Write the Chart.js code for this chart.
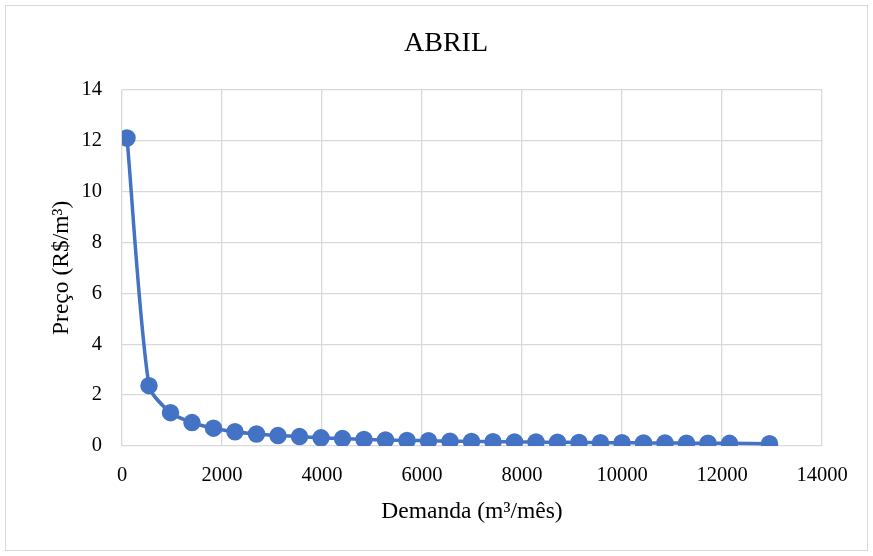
<!DOCTYPE html>
<html>
<head>
<meta charset="utf-8">
<script src="https://cdn.jsdelivr.net/npm/chart.js@4"></script>
<style>
html,body{margin:0;padding:0;background:#fff;}
#wrap{width:873px;height:556px;position:relative;}
</style>
</head>
<body>
<div id="wrap"><canvas id="c" width="873" height="556"></canvas></div>
<script>
const demanda = [100, 540, 970, 1400, 1830, 2260, 2690, 3120, 3550, 3980, 4410, 4840, 5270, 5700, 6130, 6560, 6990, 7420, 7850, 8280, 8710, 9140, 9570, 10000, 10430, 10860, 11290, 11720, 12150, 12950];
const preco = [12.1, 2.37, 1.31, 0.92, 0.70, 0.56, 0.47, 0.41, 0.37, 0.32, 0.29, 0.26, 0.24, 0.22, 0.21, 0.19, 0.18, 0.17, 0.16, 0.155, 0.145, 0.14, 0.13, 0.127, 0.12, 0.117, 0.112, 0.108, 0.104, 0.09];
const xTicks = [0, 2000, 4000, 6000, 8000, 10000, 12000, 14000];
const yTicks = [0, 2, 4, 6, 8, 10, 12, 14];

const pts = demanda.map((x, i) => ({x: x, y: preco[i]}));
const FONT = "'Liberation Serif', 'Times New Roman', serif";

const borderPlugin = {
  id: 'outerBorder',
  afterLayout(chart) {
    if (chart.titleBlock) {
      chart.titleBlock.left = 19;
      chart.titleBlock.right = 873;
    }
  },
  beforeDraw(chart) {
    const ctx = chart.ctx;
    ctx.save();
    ctx.fillStyle = '#ffffff';
    ctx.fillRect(0, 0, chart.width, chart.height);
    ctx.strokeStyle = '#d9d9d9';
    ctx.lineWidth = 1;
    ctx.strokeRect(5.5, 5.5, chart.width - 11, chart.height - 11);
    ctx.restore();
  }
};

new Chart(document.getElementById('c'), {
  type: 'scatter',
  data: {
    datasets: [{
      data: pts,
      showLine: true,
      borderColor: '#4472C4',
      backgroundColor: '#4472C4',
      borderWidth: 3.5,
      pointRadius: 7,
      pointHoverRadius: 7,
      tension: 0.25
    }]
  },
  options: {
    responsive: false,
    animation: false,
    layout: {padding: {left: 10, right: 51, top: 10, bottom: 14}},
    plugins: {
      legend: {display: false},
      tooltip: {enabled: false},
      title: {
        display: true,
        text: 'ABRIL',
        color: '#000',
        font: {family: FONT, size: 28, weight: 'normal'},
        padding: {top: 17, bottom: 29}
      }
    },
    scales: {
      x: {
        type: 'linear',
        min: 0, max: 14000,
        afterBuildTicks(s) { s.ticks = xTicks.map(v => ({value: v})); },
        grid: {color: '#d9d9d9', lineWidth: 1.3, drawTicks: false},
        border: {display: false},
        ticks: {color: '#000', font: {family: FONT, size: 20.5}, padding: 17, maxRotation: 0,
                callback: v => String(v)},
        title: {display: true, text: 'Demanda (m³/mês)', color: '#000', font: {family: FONT, size: 23.5}, padding: {top: 4, bottom: 16}},
        afterFit(s) { s.height = 96; }
      },
      y: {
        type: 'linear',
        min: 0, max: 14,
        afterBuildTicks(s) { s.ticks = yTicks.map(v => ({value: v})); },
        grid: {color: '#d9d9d9', lineWidth: 1.3, drawTicks: false},
        border: {display: false},
        ticks: {color: '#000', font: {family: FONT, size: 20.5}, padding: 20, callback: v => String(v)},
        title: {display: true, text: 'Preço (R$/m³)', color: '#000', font: {family: FONT, size: 23.5}, padding: {top: 38, bottom: 0}},
        afterFit(s) { s.width = 112; }
      }
    }
  },
  plugins: [borderPlugin]
});
</script>
</body>
</html>
